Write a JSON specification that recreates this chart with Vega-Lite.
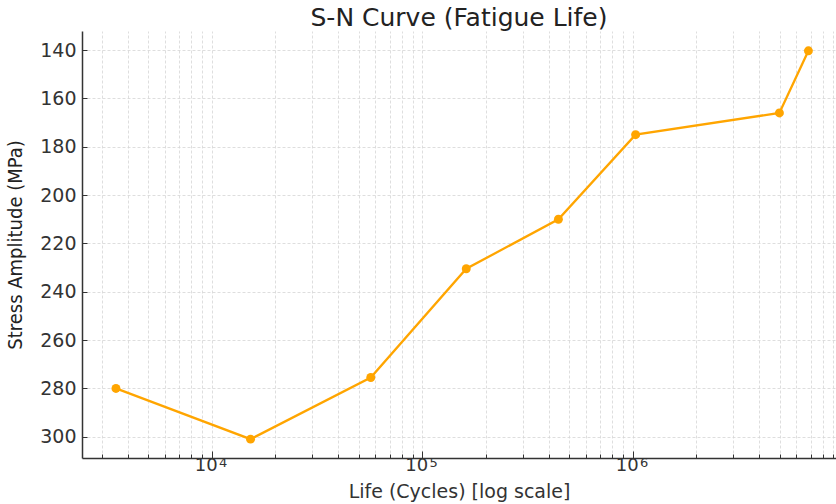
{
  "$schema": "https://vega.github.io/schema/vega-lite/v6.json",
  "autosize": {"type": "none"},
  "padding": {"left": 82, "top": 31, "right": 0, "bottom": 46},
  "width": 754,
  "height": 427,
  "background": "white",
  "title": {"text": "S-N Curve (Fatigue Life)", "font": "DejaVu Sans", "fontSize": 25, "fontWeight": "normal", "color": "#222", "offset": 0},
  "config": {"view": {"stroke": null}},
  "data": {"values": [
    {"cycles": 3510, "stress": 280},
    {"cycles": 15300, "stress": 301},
    {"cycles": 57000, "stress": 275.5},
    {"cycles": 162000, "stress": 230.5},
    {"cycles": 444000, "stress": 210},
    {"cycles": 1033000, "stress": 175},
    {"cycles": 4980000, "stress": 166},
    {"cycles": 6840000, "stress": 140.3}
  ]},
  "layer": [
    {
      "mark": {"type": "line", "color": "#FFA500", "strokeWidth": 2.3},
      "encoding": {
        "x": {"field": "cycles", "type": "quantitative",
          "scale": {"type": "log", "domain": [2421, 9250000], "nice": false},
          "axis": {"title": "Life (Cycles) [log scale]", "values": [10000, 100000, 1000000],
            "labelExpr": "'10'",
            "grid": false, "tickSize": -7, "tickColor": "#333", "domainColor": "#333", "domainWidth": 1.5,
            "labelFont": "DejaVu Sans", "labelFontSize": 18, "labelColor": "#333", "labelPadding": 5, "labelOffset": -6,
            "titleFont": "DejaVu Sans", "titleFontSize": 19, "titleFontWeight": "normal", "titleColor": "#333", "titlePadding": 8}},
        "y": {"field": "stress", "type": "quantitative",
          "scale": {"domain": [132.1, 308.8], "reverse": true, "nice": false, "zero": false},
          "axis": {"title": "Stress Amplitude (MPa)", "values": [140, 160, 180, 200, 220, 240, 260, 280, 300],
            "gridDash": [3, 2], "gridColor": "#d6d6d6", "gridWidth": 0.8,
            "tickSize": -5, "tickColor": "#333", "domainColor": "#333", "domainWidth": 1.5,
            "labelFont": "DejaVu Sans", "labelFontSize": 19, "labelColor": "#333", "labelPadding": 11,
            "titleFont": "DejaVu Sans Condensed", "titleFontSize": 20, "titleFontWeight": "normal", "titleColor": "#222", "titlePadding": 14}}
      }
    },
    {
      "mark": {"type": "point", "filled": true, "color": "#FFA500", "size": 80, "opacity": 1},
      "encoding": {
        "x": {"field": "cycles", "type": "quantitative",
          "axis": {"orient": "bottom", "title": null, "domain": false,
            "values": [3000, 4000, 5000, 6000, 7000, 8000, 9000, 10000, 20000, 30000, 40000, 50000, 60000, 70000, 80000, 90000, 100000, 200000, 300000, 400000, 500000, 600000, 700000, 800000, 900000, 1000000, 2000000, 3000000, 4000000, 5000000, 6000000, 7000000, 8000000, 9000000],
            "labelExpr": "datum.value == 10000 ? '4' : datum.value == 100000 ? '5' : datum.value == 1000000 ? '6' : ''",
            "labelFont": "DejaVu Sans", "labelFontSize": 13, "labelColor": "#333", "labelPadding": 2, "labelOffset": 11,
            "labelOverlap": false,
            "grid": true, "gridDash": [3, 2], "gridColor": "#d6d6d6", "gridWidth": 0.8,
            "tickSize": -4, "tickColor": "#333"}},
        "y": {"field": "stress", "type": "quantitative"}
      }
    }
  ],
  "resolve": {"axis": {"x": "independent"}}
}
